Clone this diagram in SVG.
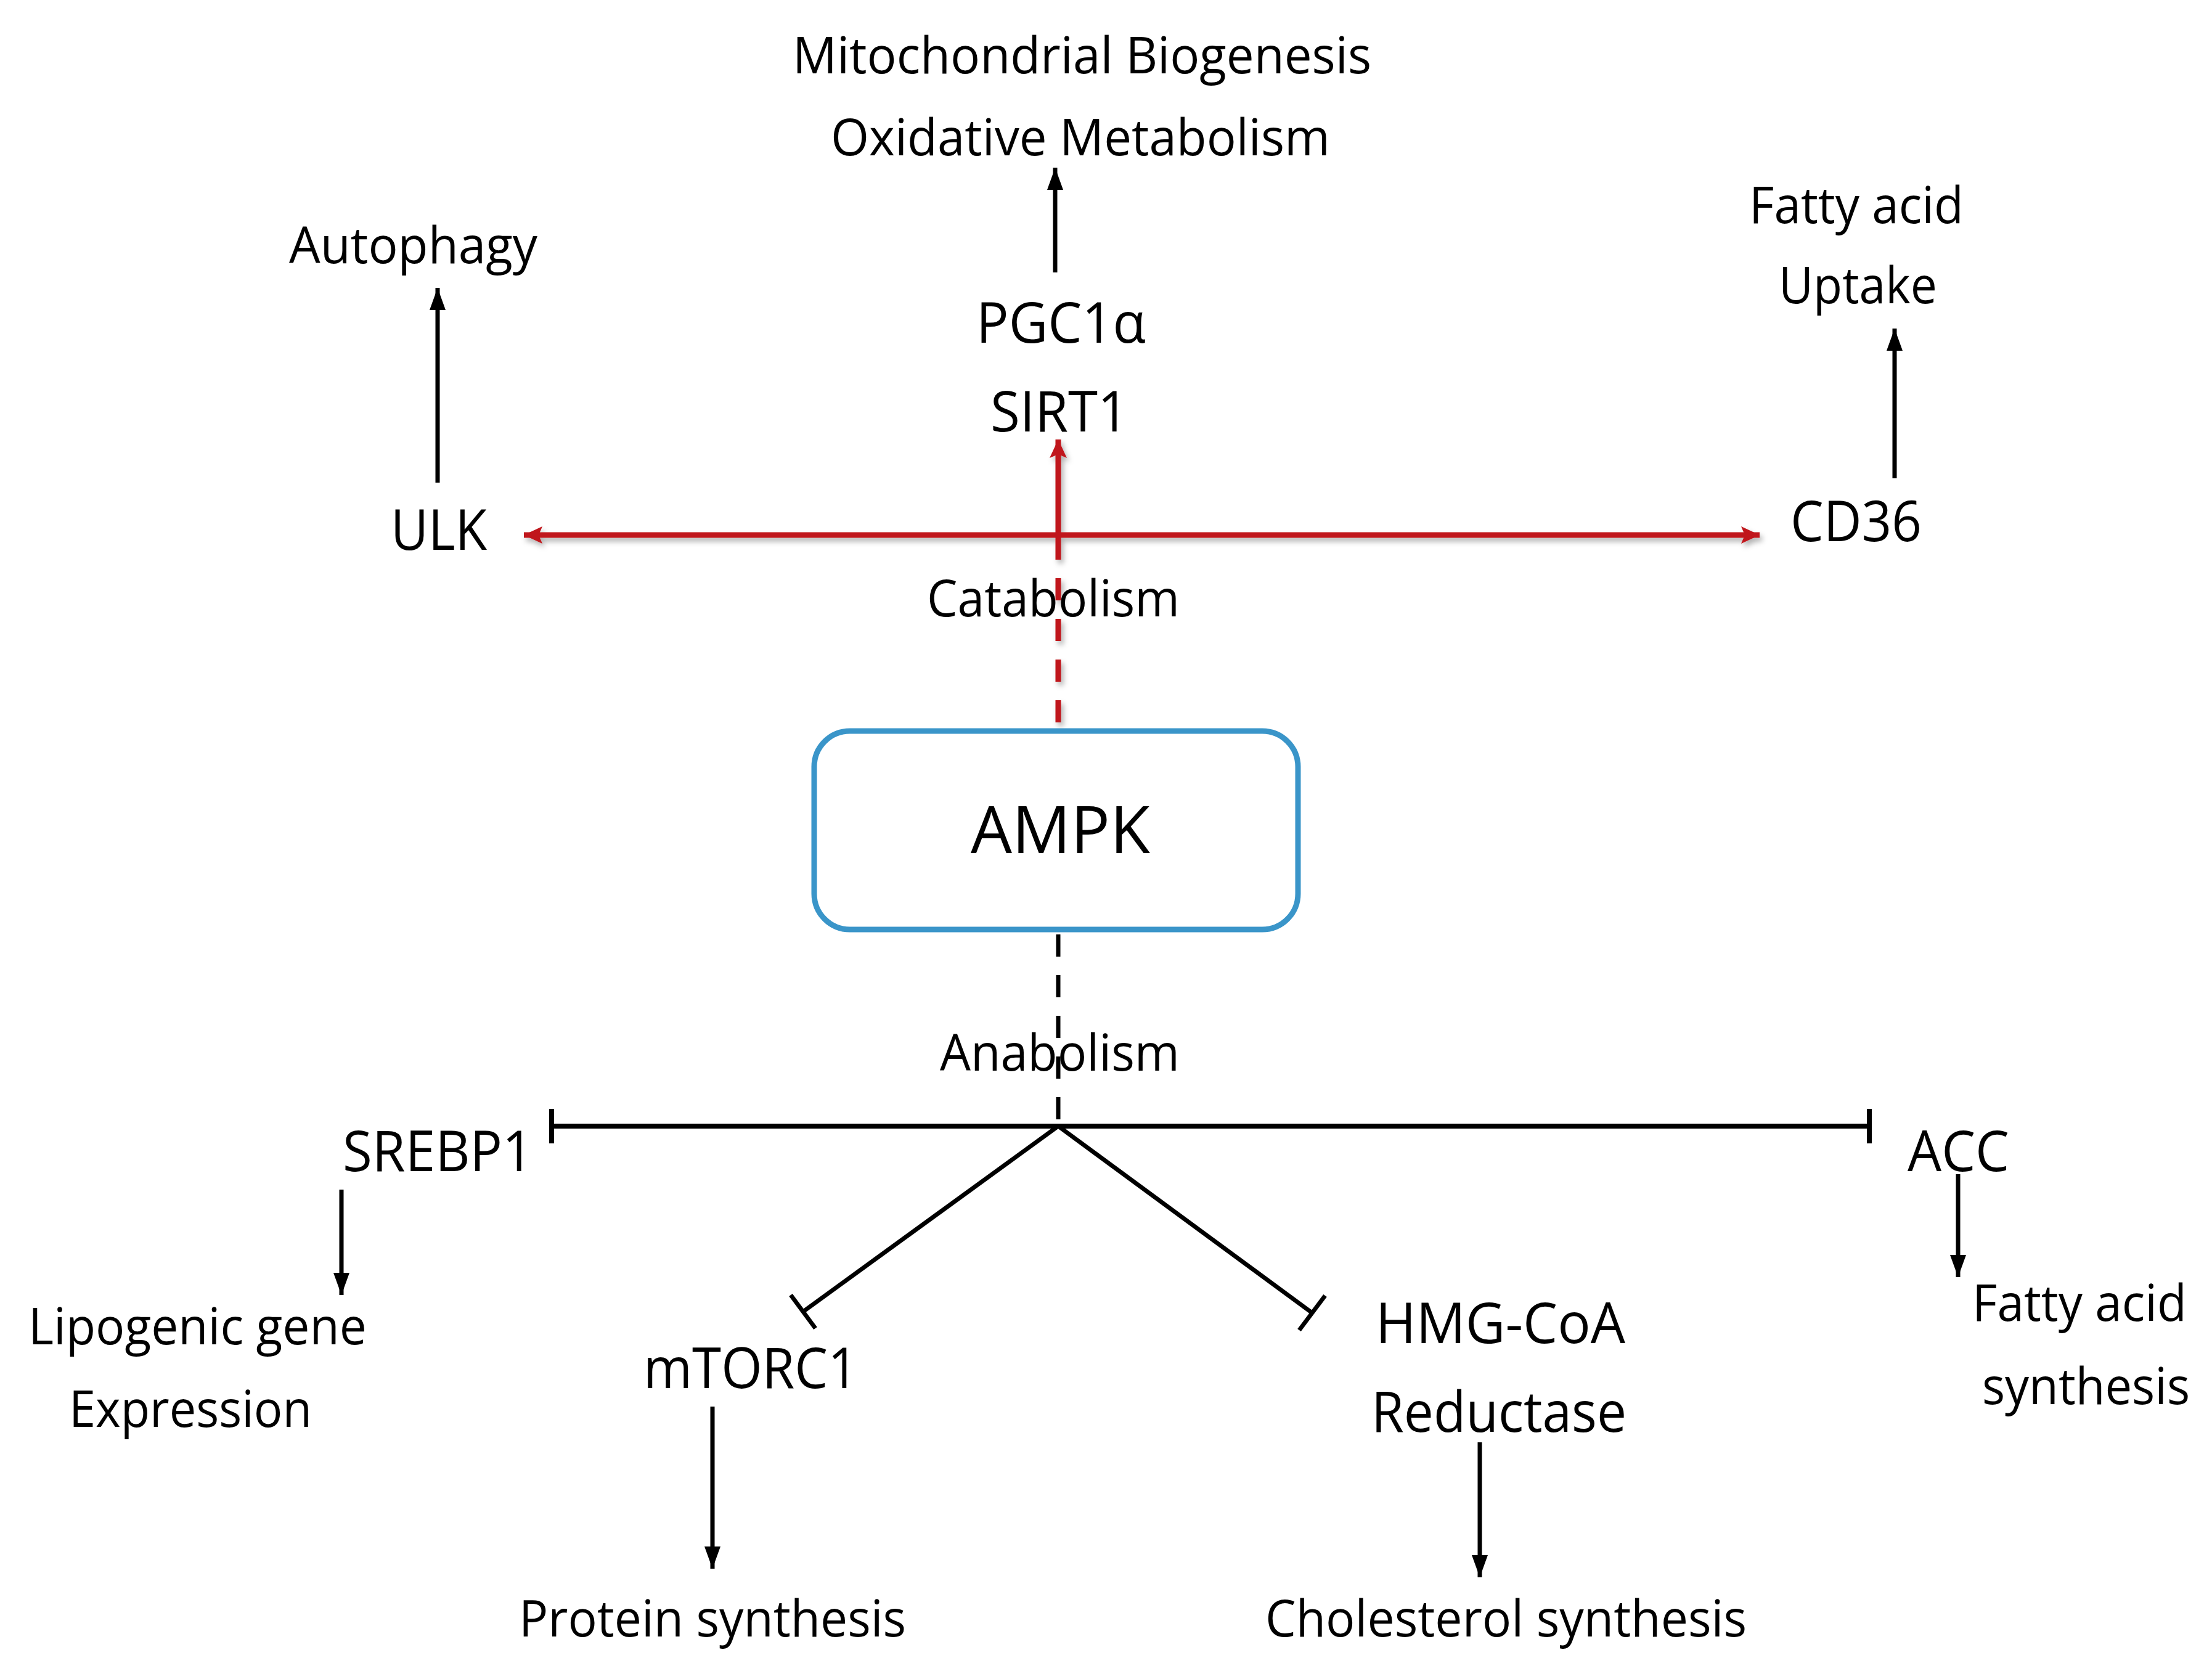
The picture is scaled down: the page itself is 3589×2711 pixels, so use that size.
<svg xmlns="http://www.w3.org/2000/svg" width="3589" height="2711" viewBox="0 0 3589 2711">
<style>
text{font-family:"Open Sans","Liberation Sans",sans-serif;fill:#000}
.s{font-size:83px}
.m{font-size:91px}
.big{font-size:106px}
.blk{stroke:#000;stroke-width:7;fill:none}
.inh{stroke:#000;stroke-width:8;fill:none}
.red{stroke:#c0141b;stroke-width:9;fill:none}
</style>
<defs>
<marker id="ah" markerUnits="userSpaceOnUse" markerWidth="40" markerHeight="30" refX="36" refY="13" orient="auto">
<path d="M0,0 L36,13 L0,26 Z" fill="#000"/>
</marker>
<marker id="rh" markerUnits="userSpaceOnUse" markerWidth="40" markerHeight="32" refX="30" refY="14" orient="auto-start-reverse">
<path d="M0,0 L30,14 L0,28 L6,14 Z" fill="#c0141b"/>
</marker>
<filter id="sh" x="-5%" y="-50%" width="110%" height="300%">
<feDropShadow dx="4" dy="6" stdDeviation="4" flood-color="#000" flood-opacity="0.3"/>
</filter>
</defs>
<rect width="3589" height="2711" fill="#fff"/>

<g id="connectors">
<g filter="url(#sh)">
<line class="red" x1="850" y1="868" x2="2855" y2="868" marker-start="url(#rh)" marker-end="url(#rh)"/>
<line class="red" x1="1717" y1="868" x2="1717" y2="713" marker-end="url(#rh)"/>
<line class="red" x1="1717" y1="872" x2="1717" y2="1180" stroke-dasharray="36 30"/>
</g>
<line class="blk" x1="1712" y1="442" x2="1712" y2="272" marker-end="url(#ah)"/>
<line class="blk" x1="710" y1="783" x2="710" y2="467" marker-end="url(#ah)"/>
<line class="blk" x1="3074" y1="776" x2="3074" y2="533" marker-end="url(#ah)"/>
<line class="blk" x1="1717" y1="1516" x2="1717" y2="1827" stroke-dasharray="36 30"/>
<line class="inh" x1="895" y1="1827" x2="3033" y2="1827"/>
<line class="inh" x1="895" y1="1799" x2="895" y2="1855"/>
<line class="inh" x1="3033" y1="1799" x2="3033" y2="1855"/>
<line class="blk" x1="1717" y1="1827" x2="1303" y2="2128"/>
<line class="blk" x1="1283" y1="2101" x2="1323" y2="2155"/>
<line class="blk" x1="1717" y1="1827" x2="2129" y2="2130"/>
<line class="blk" x1="2150" y1="2102" x2="2108" y2="2158"/>
<line class="blk" x1="554" y1="1930" x2="554" y2="2101" marker-end="url(#ah)"/>
<line class="blk" x1="3177" y1="1905" x2="3177" y2="2072" marker-end="url(#ah)"/>
<line class="blk" x1="1156" y1="2282" x2="1156" y2="2545" marker-end="url(#ah)"/>
<line class="blk" x1="2401" y1="2340" x2="2401" y2="2559" marker-end="url(#ah)"/>
</g>

<g id="ampk">
<rect x="1321" y="1186" width="785" height="322" rx="58" ry="58" fill="#fff" stroke="#3a95c9" stroke-width="9"/>
<text class="big" x="1575" y="1384" textLength="291" lengthAdjust="spacingAndGlyphs">AMPK</text>
</g>
<g id="mito"><text class="s" x="1286" y="119" textLength="939" lengthAdjust="spacingAndGlyphs">Mitochondrial Biogenesis</text>
<text class="s" x="1348" y="252" textLength="810" lengthAdjust="spacingAndGlyphs">Oxidative Metabolism</text></g>
<g id="pgc1a"><text class="m" x="1584" y="556" textLength="275" lengthAdjust="spacingAndGlyphs">PGC1α</text></g>
<g id="sirt1"><text class="m" x="1607" y="700" textLength="224" lengthAdjust="spacingAndGlyphs">SIRT1</text></g>
<g id="autophagy"><text class="s" x="469" y="427" textLength="403" lengthAdjust="spacingAndGlyphs">Autophagy</text></g>
<g id="ulk"><text class="m" x="634" y="892" textLength="156" lengthAdjust="spacingAndGlyphs">ULK</text></g>
<g id="cd36"><text class="m" x="2905" y="878" textLength="213" lengthAdjust="spacingAndGlyphs">CD36</text></g>
<g id="fa-uptake"><text class="s" x="2838" y="362" textLength="348" lengthAdjust="spacingAndGlyphs">Fatty acid</text>
<text class="s" x="2886" y="492" textLength="257" lengthAdjust="spacingAndGlyphs">Uptake</text></g>
<g id="catabolism"><text class="s" x="1504" y="1000" textLength="410" lengthAdjust="spacingAndGlyphs">Catabolism</text></g>
<g id="anabolism"><text class="s" x="1525" y="1737" textLength="389" lengthAdjust="spacingAndGlyphs">Anabolism</text></g>
<g id="srebp1"><text class="m" x="556" y="1900" textLength="309" lengthAdjust="spacingAndGlyphs">SREBP1</text></g>
<g id="lipogenic"><text class="s" x="46" y="2181" textLength="549" lengthAdjust="spacingAndGlyphs">Lipogenic gene</text>
<text class="s" x="112" y="2315" textLength="394" lengthAdjust="spacingAndGlyphs">Expression</text></g>
<g id="acc"><text class="m" x="3095" y="1900" textLength="165" lengthAdjust="spacingAndGlyphs">ACC</text></g>
<g id="fa-synth"><text class="s" x="3200" y="2143" textLength="348" lengthAdjust="spacingAndGlyphs">Fatty acid</text>
<text class="s" x="3216" y="2278" textLength="337" lengthAdjust="spacingAndGlyphs">synthesis</text></g>
<g id="mtorc1"><text class="m" x="1044" y="2252" textLength="348" lengthAdjust="spacingAndGlyphs">mTORC1</text></g>
<g id="protein"><text class="s" x="842" y="2655" textLength="628" lengthAdjust="spacingAndGlyphs">Protein synthesis</text></g>
<g id="hmgcoa"><text class="m" x="2232" y="2179" textLength="405" lengthAdjust="spacingAndGlyphs">HMG-CoA</text>
<text class="m" x="2225" y="2323" textLength="414" lengthAdjust="spacingAndGlyphs">Reductase</text></g>
<g id="cholesterol"><text class="s" x="2053" y="2655" textLength="781" lengthAdjust="spacingAndGlyphs">Cholesterol synthesis</text></g>
</svg>
